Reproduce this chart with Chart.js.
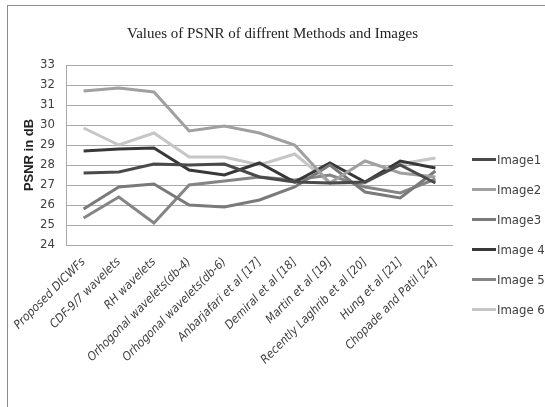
<!DOCTYPE html>
<html>
<head>
<meta charset="utf-8">
<script src="https://cdn.jsdelivr.net/npm/chart.js@4/dist/chart.umd.min.js"></script>
<style>
  html, body { margin: 0; padding: 0; background: #fff; overflow: hidden; }
  #wrap { position: relative; width: 545px; height: 407px; }
  #frame { position: absolute; left: 7px; top: 5px; width: 700px; height: 600px; border: 1px solid #8c8c8c; box-sizing: border-box; }
  canvas { position: absolute; left: 0; top: 0; }
  #legend { position: absolute; left: 472px; top: 144px; font: 13px 'Liberation Sans Narrow', 'DejaVu Sans Condensed', sans-serif; color: #404040; }
  .item { height: 30px; display: flex; align-items: center; }
  .swatch { width: 24px; height: 3px; margin-right: 1px; }
</style>
</head>
<body>
<div id="wrap">
  <div id="frame"></div>
  <canvas id="psnrChart" width="545" height="407"></canvas>
  <div id="legend"></div>
</div>
<script>
const categories = ['Proposed DICWFs', 'CDF-9/7 wavelets', 'RH wavelets', 'Orhogonal wavelets(db-4)',
  'Orhogonal wavelets(db-6)', 'Anbarjafari et al [17]', 'Demiral et al [18]', 'Martin et al [19]',
  'Recently Laghrib et al [20]', 'Hung et al [21]', 'Chopade and Patil [24]'];

const image1 = [27.6, 27.65, 28.05, 28.0, 28.05, 27.4, 27.15, 27.1, 27.15, 28.0, 27.1];
const image2 = [31.7, 31.85, 31.65, 29.7, 29.95, 29.6, 29.0, 27.1, 28.2, 27.6, 27.4];
const image3 = [25.8, 26.9, 27.05, 26.0, 25.9, 26.25, 26.9, 28.0, 26.65, 26.35, 27.7];
const image4 = [28.7, 28.8, 28.85, 27.75, 27.5, 28.1, 27.15, 28.1, 27.15, 28.2, 27.85];
const image5 = [25.35, 26.4, 25.1, 27.0, 27.2, 27.4, 27.25, 27.5, 26.9, 26.6, 27.3];
const image6 = [29.85, 29.0, 29.6, 28.4, 28.4, 28.0, 28.55, 27.1, 27.1, 28.05, 28.35];

const seriesNames = ['Image1', 'Image2', 'Image3', 'Image 4', 'Image 5', 'Image 6'];
const seriesData = [image1, image2, image3, image4, image5, image6];
const seriesColors = ['#4a4a4a', '#a0a0a0', '#7a7a7a', '#383838', '#858585', '#c6c6c6'];

const yMin = 24;
const yMax = 33;

const ctx = document.getElementById('psnrChart').getContext('2d');
const tickFont = "'Liberation Sans Narrow', 'DejaVu Sans Condensed', sans-serif";

// centre the title across the whole frame, not just the plot + axes
const titleCentre = {
  id: 'titleCentre',
  afterLayout(chart) {
    if (chart.titleBlock) {
      chart.titleBlock.left = 0;
      chart.titleBlock.right = 545;
      chart.titleBlock.width = 545;
    }
  }
};

const myChart = new Chart(ctx, {
  type: 'line',
  data: {
    labels: categories,
    datasets: seriesData.map((d, i) => ({
      label: seriesNames[i],
      data: d,
      borderColor: seriesColors[i],
      backgroundColor: seriesColors[i],
      borderWidth: 3,
      pointRadius: 0,
      tension: 0
    }))
  },
  options: {
    responsive: false,
    animation: false,
    layout: { padding: { left: 22, right: 92, top: 0, bottom: 0 } },
    plugins: {
      legend: { display: false },
      tooltip: { enabled: false },
      title: {
        display: true,
        text: 'Values of PSNR of diffrent Methods and Images',
        font: { family: "'Liberation Serif', serif", size: 15, weight: 'normal' },
        color: '#222',
        padding: { top: 25, bottom: 22 }
      }
    },
    scales: {
      x: {
        offset: true,
        grid: { display: false, drawTicks: false },
        border: { display: false },
        ticks: {
          autoSkip: false,
          maxRotation: 45,
          minRotation: 45,
          padding: 10,
          color: '#404040',
          font: { family: tickFont, size: 12, style: 'italic' }
        },
        afterFit: scale => { scale.height = 162; }
      },
      y: {
        min: yMin,
        max: yMax,
        ticks: {
          stepSize: 1,
          padding: 11,
          color: '#404040',
          font: { family: tickFont, size: 13 }
        },
        grid: { color: '#a8a8a8', lineWidth: 1, drawTicks: false },
        border: { display: true, color: '#a8a8a8' },
        title: {
          display: true,
          text: 'PSNR in dB',
          color: '#222',
          font: { family: "'Liberation Sans', sans-serif", size: 13, weight: 'bold' },
          padding: 0
        },
        afterFit: scale => { scale.width = 44; }
      }
    }
  },
  plugins: [titleCentre]
});

const legendEl = document.getElementById('legend');
myChart.data.datasets.forEach(ds => {
  const item = document.createElement('div');
  item.className = 'item';
  const sw = document.createElement('span');
  sw.className = 'swatch';
  sw.style.background = ds.borderColor;
  const txt = document.createElement('span');
  txt.textContent = ds.label;
  item.appendChild(sw);
  item.appendChild(txt);
  legendEl.appendChild(item);
});
</script>
</body>
</html>
